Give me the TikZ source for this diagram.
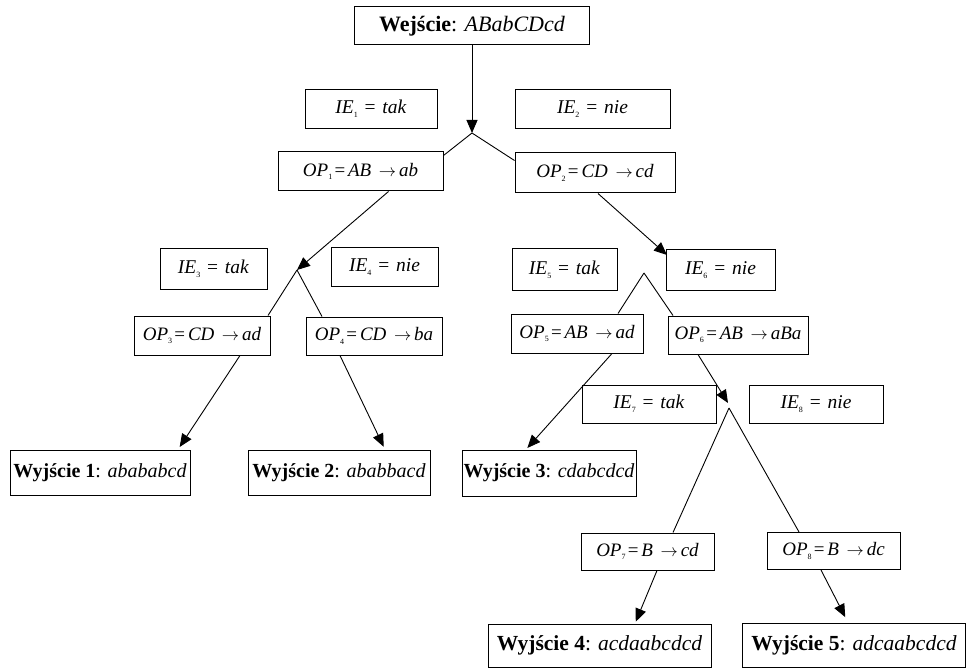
\documentclass[tikz,border=0pt]{standalone}
\usepackage{fontspec}
\setmainfont{Liberation Serif}
\usetikzlibrary{arrows.meta}

\newcommand{\opsub}[1]{\raisebox{-0.4ex}{\fontsize{8}{8}\selectfont #1}}
\newcommand{\iecond}[2]{\textit{IE}\opsub{#1}\hspace{0.35em}=\hspace{0.35em}\textit{#2}}
\newcommand{\oprule}[3]{\textit{OP}\opsub{#1}\hspace{0.12em}=\hspace{0.15em}\textit{#2}\hspace{0.4em}$\rightarrow$\hspace{0.15em}\textit{#3}}

\begin{document}
\begin{tikzpicture}[
    x=1pt, y=-1pt,
    >={Triangle[length=13pt, width=11pt]},
    plain/.style={draw, line width=1pt, inner sep=0pt},
    iebox/.style={plain, minimum height=39pt, font=\fontsize{19.5}{21}\selectfont},
    opbox/.style={plain, minimum height=39pt, font=\fontsize{19}{21}\selectfont},
    endbox/.style={plain, minimum height=45pt, font=\fontsize{20}{22}\selectfont},
    every edge/.append style={line width=0.9pt}
]
   \useasboundingbox (0,0) rectangle (966,668);

   % Input
   \node[endbox, minimum width=235pt, minimum height=38pt, font=\fontsize{22}{24}\selectfont] (wej) at (472,26) {\textbf{Wejście}: \textit{ABabCDcd}};

   % Conditions
   \node[iebox, minimum width=132pt] (ie1) at (371,109) {\iecond{1}{tak}};
   \node[iebox, minimum width=155pt] (ie2) at (592.5,109) {\iecond{2}{nie}};
   \node[iebox, minimum width=107pt, minimum height=41pt] (ie3) at (213.5,269) {\iecond{3}{tak}};
   \node[iebox, minimum width=107pt] (ie4) at (384.5,267) {\iecond{4}{nie}};
   \node[iebox, minimum width=105pt, minimum height=41pt] (ie5) at (564.5,269.5) {\iecond{5}{tak}};
   \node[iebox, minimum width=109pt, minimum height=41pt] (ie6) at (720.5,270) {\iecond{6}{nie}};
   \node[iebox, minimum width=134pt, minimum height=38pt] (ie7) at (649,404) {\iecond{7}{tak}};
   \node[iebox, minimum width=134pt, minimum height=38pt] (ie8) at (816,404) {\iecond{8}{nie}};

   % Operations
   \node[opbox, minimum width=165pt] (op1) at (360.5,171.5) {\oprule{1}{AB}{ab}};
   \node[opbox, minimum width=160pt, minimum height=40pt] (op2) at (595,173) {\oprule{2}{CD}{cd}};
   \node[opbox, minimum width=136pt] (op3) at (202,335.5) {\oprule{3}{CD}{ad}};
   \node[opbox, minimum width=136pt, minimum height=38pt] (op4) at (374,336) {\oprule{4}{CD}{ba}};
   \node[opbox, minimum width=132pt] (op5) at (577,333.5) {\oprule{5}{AB}{ad}};
   \node[opbox, minimum width=140pt, minimum height=38pt] (op6) at (738,335) {\oprule{6}{AB}{aBa}};
   \node[opbox, minimum width=133pt, minimum height=37pt] (op7) at (647.5,551.5) {\oprule{7}{B}{cd}};
   \node[opbox, minimum width=133pt, minimum height=37pt] (op8) at (833.5,551) {\oprule{8}{B}{dc}};

   % Outputs
   \node[endbox, minimum width=180pt] (wy1) at (100,472.5) {\textbf{Wyjście 1}: \textit{abababcd}};
   \node[endbox, minimum width=182pt] (wy2) at (339,472.5) {\textbf{Wyjście 2}: \textit{ababbacd}};
   \node[endbox, minimum width=174pt, minimum height=46pt] (wy3) at (549,473) {\textbf{Wyjście 3}: \textit{cdabcdcd}};
   \node[endbox, minimum width=223pt, minimum height=43pt, font=\fontsize{21.5}{23}\selectfont] (wy4) at (599.5,645.5) {\textbf{Wyjście 4}: \textit{acdaabcdcd}};
   \node[endbox, minimum width=223pt, minimum height=44pt, font=\fontsize{21.5}{23}\selectfont] (wy5) at (854,645) {\textbf{Wyjście 5}: \textit{adcaabcdcd}};

   % Branch points
   \coordinate (s1) at (472,133);
   \coordinate (s2) at (297,270);
   \coordinate (t3) at (667,255);
   \coordinate (s3) at (644,273);
   \coordinate (t4) at (728,403);
   \coordinate (s4) at (729,408);

   % Transitions
   \path[->]
   (wej.south) edge (s1)
   ([xshift=28pt]op1.south) edge (s2)
   ([xshift=3pt]op2.south) edge (t3)
   ([xshift=38pt]op3.south) edge[shorten >=3pt] ([xshift=78pt]wy1.north)
   ([xshift=-34pt]op4.south) edge[shorten >=3pt] ([xshift=46pt]wy2.north)
   ([xshift=35pt]op5.south) edge[shorten >=2pt] ([xshift=-23pt]wy3.north)
   ([xshift=-40pt]op6.south) edge (t4)
   ([xshift=9.5pt]op7.south) edge[shorten >=2pt] ([xshift=35.5pt]wy4.north)
   ([xshift=-12.5pt]op8.south) edge[shorten >=6pt] ([xshift=-6pt]wy5.north);

   \path
   (s1) edge ([yshift=-4pt]op1.north east)
   (s1) edge ([yshift=-8pt]op2.north west)
   (s2) edge ([xshift=66pt]op3.north)
   (s2) edge ([xshift=-52pt]op4.north)
   (s3) edge ([xshift=41pt]op5.north)
   (s3) edge ([xshift=-65pt]op6.north)
   (s4) edge ([xshift=25.5pt]op7.north)
   (s4) edge ([xshift=-34.5pt]op8.north);

\end{tikzpicture}
\end{document}
